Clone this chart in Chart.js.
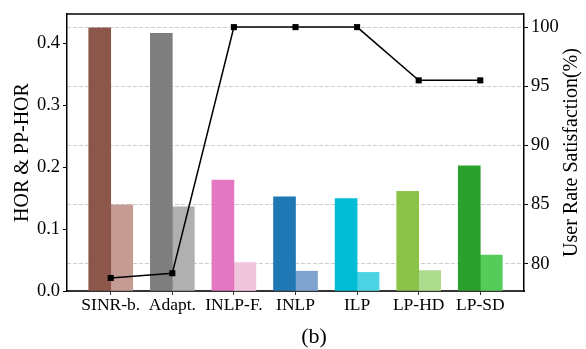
<!DOCTYPE html>
<html>
<head>
<meta charset="utf-8">
<script src="https://cdn.jsdelivr.net/npm/chart.js@4.4.1/dist/chart.umd.min.js"></script>
<style>
  html, body { margin: 0; padding: 0; background: #fff; }
  #wrap { width: 586px; height: 349px; position: relative; }
</style>
</head>
<body>
<div id="wrap"><canvas id="myChart"></canvas></div>
<script>
// data
const categories = ["SINR-b.", "Adapt.", "INLP-F.", "INLP", "ILP", "LP-HD", "LP-SD"];
const horValues = [0.425, 0.416, 0.179, 0.152, 0.149, 0.161, 0.202];
const ppHorValues = [0.139, 0.136, 0.046, 0.032, 0.030, 0.033, 0.058];
const satisfaction = [78.8, 79.2, 100, 100, 100, 95.5, 95.5];
const leftTicks = [0, 0.1, 0.2, 0.3, 0.4];
const rightTicks = [80, 85, 90, 95, 100];

const darkColors = ["#8c564b", "#7f7f7f", "#e377c2", "#1f77b4", "#00bcd4", "#8bc34a", "#2ca02c"];
const lightColors = ["#c49c94", "#b0b0b0", "#f1c6dd", "#80a3cf", "#4dd4e4", "#aedc8f", "#55cc5a"];

const serif = "'Liberation Serif', 'Times New Roman', serif";

var frame = {
  id: "frame",
  afterDraw(chart) {
    const { ctx, chartArea } = chart;
    ctx.save();
    ctx.strokeStyle = "#000";
    ctx.lineWidth = 1.5;
    ctx.beginPath();
    ctx.moveTo(chartArea.left, chartArea.top);
    ctx.lineTo(chartArea.right, chartArea.top);
    ctx.stroke();
    ctx.fillStyle = "#000";
    ctx.textAlign = "center";
    ctx.textBaseline = "middle";
    // right axis title, reading bottom to top
    ctx.save();
    ctx.translate(572, (chartArea.top + chartArea.bottom) / 2);
    ctx.rotate(-Math.PI / 2);
    ctx.font = "20px " + serif;
    ctx.fillText("User Rate Satisfaction(%)", 0, 0);
    ctx.restore();
    // caption under the plot
    ctx.font = "22px " + serif;
    ctx.fillText("(b)", 314, 337);
    ctx.restore();
  },
};

var ctx = document.getElementById("myChart").getContext("2d");
var myChart = new Chart(ctx, {
  type: "bar",
  data: {
    datasets: [
      {
        type: "line",
        label: "User Rate Satisfaction",
        data: satisfaction.map((v, i) => ({ x: i, y: v })),
        yAxisID: "y1",
        borderColor: "#000",
        backgroundColor: "#000",
        borderWidth: 1.5,
        pointStyle: "rect",
        pointRadius: 4.3,
        pointBorderWidth: 0,
        tension: 0,
        order: 0,
      },
      {
        label: "HOR",
        data: horValues.map((v, i) => ({ x: i, y: v })),
        yAxisID: "y",
        backgroundColor: darkColors,
        barThickness: 22,
        order: 1,
      },
      {
        label: "PP-HOR",
        data: ppHorValues.map((v, i) => ({ x: i, y: v })),
        yAxisID: "y",
        backgroundColor: lightColors,
        barThickness: 22,
        order: 1,
      },
    ],
  },
  options: {
    responsive: true,
    maintainAspectRatio: false,
    animation: false,
    layout: { padding: { top: 8, left: 0, right: 0, bottom: 0 } },
    plugins: { legend: { display: false }, tooltip: { enabled: false } },
    scales: {
      x: {
        type: "linear",
        offset: false,
        min: -0.71,
        max: 6.71,
        afterBuildTicks: (scale) => {
          scale.ticks = categories.map((c, i) => ({ value: i }));
        },
        afterFit: (scale) => { scale.height = 58; },
        ticks: {
          callback: (v) => categories[v],
          font: { family: serif, size: 17.5 },
          color: "#000",
          padding: 0,
          maxRotation: 0,
          autoSkip: false,
        },
        grid: { offset: false, drawOnChartArea: false, tickLength: 4, tickColor: "#333" },
        border: { color: "#333", width: 2 },
      },
      y: {
        position: "left",
        min: 0,
        max: 0.447,
        afterBuildTicks: (scale) => {
          scale.ticks = leftTicks.map((v) => ({ value: v }));
        },
        afterFit: (scale) => { scale.width = 67; },
        ticks: {
          callback: (v) => v.toFixed(1),
          font: { family: serif, size: 18.5 },
          color: "#000",
          padding: 3,
        },
        grid: { drawOnChartArea: false, tickLength: 4, tickColor: "#000" },
        border: { color: "#000", width: 1.5 },
        title: {
          display: true,
          text: "HOR & PP-HOR",
          font: { family: serif, size: 20 },
          color: "#000",
          padding: { top: 11, bottom: 0 },
        },
      },
      y1: {
        position: "right",
        min: 77.7,
        max: 101.1,
        afterBuildTicks: (scale) => {
          scale.ticks = rightTicks.map((v) => ({ value: v }));
        },
        afterFit: (scale) => { scale.width = 62; },
        ticks: {
          font: { family: serif, size: 18.5 },
          color: "#000",
          padding: 3,
        },
        grid: {
          color: "#cccccc",
          lineWidth: 1,
          tickLength: 4,
          tickColor: "#000",
          tickBorderDash: [],
        },
        border: { color: "#000", width: 1.5, dash: [4, 2] },
      },
    },
  },
  plugins: [frame],
});
</script>
</body>
</html>
